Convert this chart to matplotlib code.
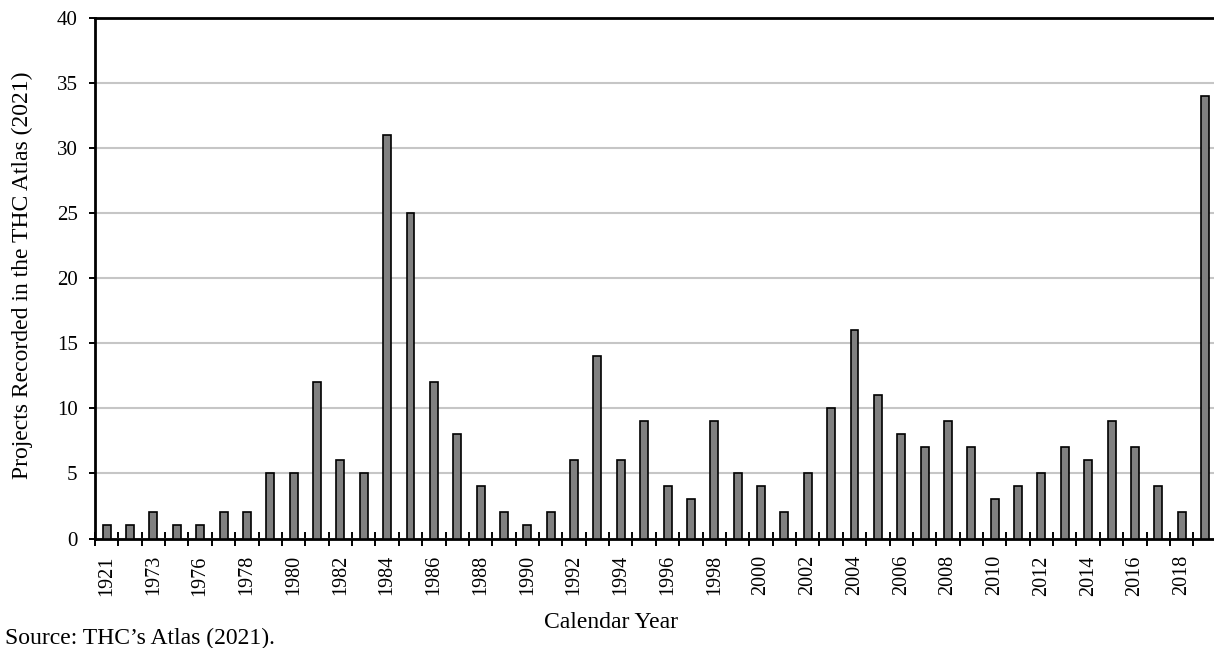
import matplotlib
matplotlib.use("Agg")
import matplotlib.pyplot as plt
import numpy as np

years = ['1921', '1972', '1973', '1975', '1976', '1977', '1978', '1979', '1980', '1981',
         '1982', '1983', '1984', '1985', '1986', '1987', '1988', '1989', '1990', '1991',
         '1992', '1993', '1994', '1995', '1996', '1997', '1998', '1999', '2000', '2001',
         '2002', '2003', '2004', '2005', '2006', '2007', '2008', '2009', '2010', '2011',
         '2012', '2013', '2014', '2015', '2016', '2017', '2018', '2019']
projects = [1, 1, 2, 1, 1, 2, 2, 5, 5, 12,
            6, 5, 31, 25, 12, 8, 4, 2, 1, 2,
            6, 14, 6, 9, 4, 3, 9, 5, 4, 2,
            5, 10, 16, 11, 8, 7, 9, 7, 3, 4,
            5, 7, 6, 9, 7, 4, 2, 34]
yticks = [0, 5, 10, 15, 20, 25, 30, 35, 40]

plt.rcParams['font.family'] = ['Liberation Serif', 'DejaVu Serif']

fig = plt.figure(figsize=(12.14, 6.48), dpi=100)
ax = fig.add_axes([95/1214, 1-538.5/648, (1216.7-95)/1214, (538.5-18.3)/648])

x = np.arange(len(years))
ax.bar(x, projects, width=0.34, color='#808080', edgecolor='black', linewidth=1.2, zorder=3)

ax.set_xlim(-0.5, len(years) - 0.5)
ax.set_ylim(0, 40)
ax.set_yticks(yticks)
ax.set_yticklabels([str(v) for v in yticks])
ax.yaxis.grid(True, color='#c6c6c6', linewidth=1.5, zorder=0)
ax.set_axisbelow(True)

ax.set_xticks(x[::2])
ax.set_xticklabels([years[i] for i in range(0, len(years), 2)], rotation=90)
ax.set_xticks(np.arange(-0.5, len(years), 1), minor=True)
ax.tick_params(axis='x', which='major', length=0, pad=12, labelsize=14.5)
ax.tick_params(axis='x', which='minor', direction='inout', length=9.5, width=1.4)
ax.tick_params(axis='y', which='major', direction='out', length=4.5, width=1.4, pad=8, labelsize=15)

for side in ['left', 'bottom', 'top']:
    ax.spines[side].set_linewidth(2)
    ax.spines[side].set_color('black')
ax.spines['right'].set_visible(False)

fig.text(22/1214, 1-275/648, 'Projects Recorded in the THC Atlas (2021)', rotation=90,
         ha='center', va='center', fontsize=17)
fig.text(611/1214, 1-622/648, 'Calendar Year', ha='center', va='center', fontsize=17)
fig.text(5/1214, 1-638/648, 'Source: THC\u2019s Atlas (2021).', ha='left', va='center', fontsize=17)

fig.savefig('out.png', dpi=100)
